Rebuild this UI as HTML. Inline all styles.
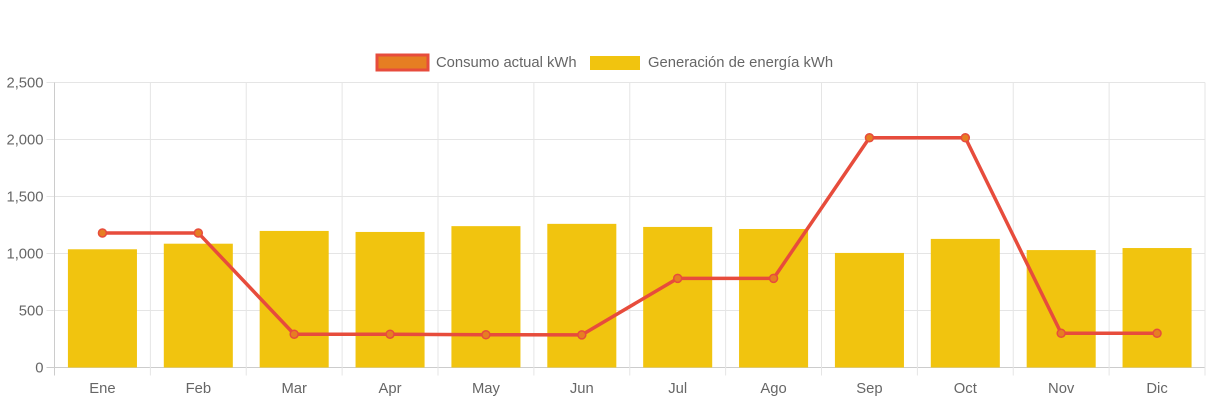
<!DOCTYPE html>
<html><head><meta charset="utf-8"><style>
html,body{margin:0;padding:0;background:#fff;}
svg text{font-family:"Liberation Sans",sans-serif;fill:#666;font-size:14.8px;}
</style></head><body>
<svg id="chart" width="1213" height="403">
<g>
<rect x="377" y="55" width="51" height="15" fill="#e67e22" stroke="#e74c3c" stroke-width="3"/>
<text x="436" y="67">Consumo actual kWh</text>
<rect x="590" y="56" width="50" height="14" fill="#f1c40f"/>
<text x="648" y="67">Generación de energía kWh</text>
</g>
<g id="grid"></g><g id="bars"></g><g id="line"></g><g id="labels"></g>
</svg>
<script>
const categories=["Ene","Feb","Mar","Apr","May","Jun","Jul","Ago","Sep","Oct","Nov","Dic"];
const generacion=[1037,1086,1198,1189,1240,1260,1233,1215,1005,1128,1030,1048];
const consumo=[1180,1180,292,292,287,286,782,782,2015,2015,300,300];
const yTicks=[0,500,1000,1500,2000,2500];
const yTickLabels=["0","500","1,000","1,500","2,000","2,500"];
const NS="http://www.w3.org/2000/svg";
const L=54.5,R=1205,T=82.5,B=367.5,yMax=2500;
const cw=(R-L)/categories.length;
const x=i=>L+cw*(i+0.5);
const y=v=>B-(v/yMax)*(B-T);
function mk(tag,attrs,parent){const e=document.createElementNS(NS,tag);for(const k in attrs)e.setAttribute(k,attrs[k]);parent.appendChild(e);return e;}
const grid=document.getElementById('grid'),bars=document.getElementById('bars'),line=document.getElementById('line'),labels=document.getElementById('labels');
yTicks.forEach((t,i)=>{
 const g=mk('line',{x1:L-8,x2:R,y1:y(t),y2:y(t),stroke:i==0?'#ccc':'#e5e5e5','stroke-width':1},grid);
 
 
 const tx=mk('text',{x:L-11,y:y(t)+5,'text-anchor':'end'},labels);
 tx.textContent=yTickLabels[i];
 
 
});
for(let i=0;i<=categories.length;i++){
 const gx=L+cw*i;
 const g=mk('line',{x1:gx,x2:gx,y1:T,y2:B+8,stroke:i==0?'#ccc':'#e5e5e5','stroke-width':1},grid);
 
 
}
categories.forEach((c,i)=>{
 const bw=cw*0.72;
 const b=mk('rect',{x:x(i)-bw/2,y:y(generacion[i]),width:bw,height:B-y(generacion[i]),fill:'#f1c40f'},bars);
 
 
 const tx=mk('text',{x:x(i),y:393,'text-anchor':'middle'},labels);
 tx.textContent=c;
 
 
});
const pl=mk('polyline',{points:consumo.map((v,i)=>x(i)+','+y(v)).join(' '),fill:'none',stroke:'#e74c3c','stroke-width':3.5},line);


consumo.forEach((v,i)=>{
 const p=mk('circle',{cx:x(i),cy:y(v),r:4,fill:'#e67e22',stroke:'#e74c3c','stroke-width':1.5},line);
 
 
});
</script>
</body></html>
